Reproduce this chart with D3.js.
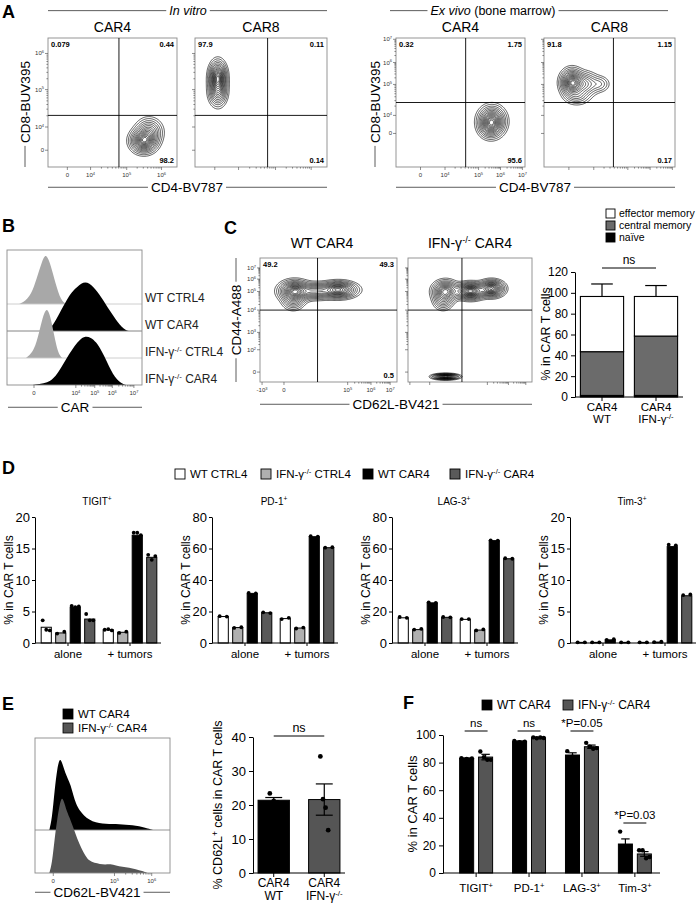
<!DOCTYPE html>
<html><head><meta charset="utf-8">
<script src="https://cdn.jsdelivr.net/npm/d3@7"></script>
<style>body{margin:0;background:#fff}</style>
</head><body>
<script>
// ================= DATA =================
// Panel A – flow plots (channel units 0–100 on a biexponential display)
const aTitles = ["CAR4", "CAR8", "CAR4", "CAR8"];
const aQuadrants = [["0.079", "0.44", "98.2"], ["97.9", "0.11", "0.14"], ["0.32", "1.75", "95.6"], ["91.8", "1.15", "0.17"]];
const aGates = [[55, 40], [55, 40], [54, 50], [53, 50]];
// populations: [centerX, centerY, spreadX, spreadY, weight]
const aPopInVitroCAR4 = [[74, 20, 5, 4.5, 1], [78, 27, 5, 5, 0.45]];
const aPopInVitroCAR8 = [[17, 69, 3.2, 6, 1], [17, 58, 3.4, 5.5, 0.5]];
const aPopExVivoCAR4 = [[74, 35, 5, 5.5, 1], [72, 30, 4, 4, 0.2]];
const aPopExVivoCAR8 = [[21, 65, 4.2, 5, 1], [30, 64, 5.5, 4.5, 0.45], [42, 64, 4, 3.2, 0.15], [25, 55, 5, 3.5, 0.22]];
const aTicksInVitroX = [["0", 15], ["10^(4)", 33], ["10^(5)", 61], ["10^(6)", 88]];
const aTicksInVitroY = [["0", 13], ["10^(4)", 31], ["10^(5)", 60], ["10^(6)", 88]];
const aTicksExVivoX = [["0", 19], ["10^(4)", 38], ["10^(5)", 64], ["10^(6)", 81], ["10^(7)", 98]];
const aTicksExVivoY = [["0", 26], ["10^(4)", 40], ["10^(5)", 64], ["10^(6)", 81], ["10^(7)", 99]];

// Panel B – CAR histograms: [channel, relative height]
const bSamples = ["WT CTRL4", "WT CAR4", "IFN-γ^(-/-) CTRL4", "IFN-γ^(-/-) CAR4"];
const bHistWTCTRL4 = [[9,0],[12,.04],[15,.1],[18,.22],[20,.36],[22,.52],[24,.7],[26,.87],[28,1],[30,.96],[32,.82],[34,.62],[36,.42],[38,.24],[40,.1],[42,.03],[44,0]];
const bHistWTCAR4 = [[27,0],[31,.04],[34,.12],[37,.26],[40,.42],[44,.62],[48,.8],[52,.9],[55,.97],[58,1],[61,.97],[64,.9],[67,.8],[70,.68],[73,.55],[76,.42],[79,.3],[82,.18],[85,.08],[88,.02],[90,0]];
const bHistKOCTRL4 = [[14,0],[17,.06],[20,.18],[22,.34],[24,.55],[26,.78],[28,.95],[29.5,1],[31,.94],[33,.74],[35,.45],[37,.2],[39,.05],[41,0]];
const bHistKOCAR4 = [[18,0],[24,.015],[30,.05],[34,.12],[38,.26],[42,.44],[46,.63],[50,.8],[54,.93],[58,1],[62,.97],[66,.88],[70,.7],[74,.48],[77,.3],[80,.16],[83,.07],[86,.02],[88,0]];
const bTicks = [["0", 20], ["10^(4)", 51], ["10^(5)", 65], ["10^(6)", 78], ["10^(7)", 94]];

// Panel C – CD44 / CD62L flow + memory subsets
const cPopWT = [[25, 73, 5.5, 4, 1], [40, 73, 7, 3.2, 0.55], [57, 74, 6.5, 3.2, 0.95], [24, 66, 4, 4, 0.35]];
const cPopKO = [[30, 73, 5, 4, 0.75], [50, 73, 6, 3.2, 1], [67, 75, 5, 3.2, 0.9], [28, 66, 4, 4, 0.3], [30, 4, 5, 1.1, 0.9]];
const cTicksX = [["-10^(3)", 1.5], ["0", 17.5], ["10^(5)", 64], ["10^(6)", 81], ["10^(7)", 95]];
const cTicksY = [["0", 8], ["10^(2)", 26], ["10^(3)", 40], ["10^(4)", 58], ["10^(5)", 73], ["10^(6)", 83], ["10^(7)", 92]];
const cGroups = ["WT", "IFN"];
const cGroupLabels = [["CAR4", "WT"], ["CAR4", "IFN-γ^(-/-)"]];
const cSubsets = ["effector memory", "central memory", "naïve"];
const cNaive = [1.5, 1.5];
const cCentral = [42, 57];
const cEffector = [53, 38];
const cCentralErr = [10, 8.5];
const cTotalErr = [12, 10.5];

// Panel D – exhaustion markers
const dGroups = ["alone", "+ tumors"];
const dSeries = ["WT CTRL4", "IFN-γ^(-/-) CTRL4", "WT CAR4", "IFN-γ^(-/-) CAR4"];
const dTitles = ["TIGIT^(+)", "PD-1^(+)", "LAG-3^(+)", "Tim-3^(+)"];
const dYMax = [20, 80, 80, 20];
const dTIGIT = [[2.5, 1.6, 5.7, 3.8], [2.1, 1.7, 17.1, 13.6]];
const dTIGITDots = [[[3.6, 2.1, 2.0], [1.5, 1.8], [5.9, 5.7, 5.8], [4.6, 3.6, 3.6]], [[2.1, 2.2, 2.0], [1.6, 1.8], [17.5, 17.5, 17.1], [14.0, 13.2, 13.8]]];
const dPD1 = [[16.8, 9.8, 31.5, 19.2], [15.5, 9.5, 67.5, 60.5]];
const dPD1Dots = [[[17, 16.8], [9.6, 10], [31.8, 31.5], [19.5, 19]], [[15.2, 16], [9.2, 9.8], [67.8, 67.5], [60.5, 60.8]]];
const dLAG3 = [[16, 8.5, 25.5, 16.3], [15, 8.2, 65, 53.5]];
const dLAG3Dots = [[[16.5, 16], [8.5, 9], [25.8, 25.5], [16.5, 16.3]], [[15.2, 15.2], [8, 8.6], [65.2, 65], [53.8, 53.5]]];
const dTIM3 = [[0.1, 0.1, 0.5, 0.1], [0.1, 0.15, 15.3, 7.5]];
const dTIM3Dots = [[[0.1, 0.1], [0.1, 0.1], [0.5, 0.6], [0.1, 0.1]], [[0.1, 0.1], [0.15, 0.2], [15.6, 15.5], [7.6, 7.7]]];

// Panel E – CD62L
const eSamples = ["WT CAR4", "IFN-γ^(-/-) CAR4"];
const eHistWT = [[10,0],[12,.15],[14,.55],[16,.85],[18,1],[20,.9],[22,.78],[24,.7],[26,.62],[28,.48],[30,.36],[33,.26],[36,.2],[40,.14],[45,.1],[50,.09],[55,.08],[60,.085],[65,.075],[70,.07],[75,.06],[80,.04],[84,.02],[88,0]];
const eHistKO = [[10,0],[12,.12],[14,.45],[16,.72],[18,.92],[19.5,1],[21,.94],[23,.82],[25,.74],[28,.6],[31,.45],[34,.33],[37,.23],[40,.16],[44,.13],[48,.12],[52,.11],[56,.12],[60,.1],[65,.08],[70,.07],[75,.05],[80,.025],[84,0]];
const eTicks = [["0", 13], ["10^(5)", 59], ["10^(6)", 87]];
const eGroups = ["WT", "IFN"];
const eGroupLabels = [["CAR4", "WT"], ["CAR4", "IFN-γ^(-/-)"]];
const eMeans = [21.4, 21.6];
const eSEM = [0.8, 4.6];
const eDots = [[23.4, 21.2, 20.8], [34.3, 21.7, 19.2, 12.6]];

// Panel F – markers in tumors
const fMarkers = ["TIGIT^(+)", "PD-1^(+)", "LAG-3^(+)", "Tim-3^(+)"];
const fSeries = ["WT CAR4", "IFN-γ^(-/-) CAR4"];
const fWT = [83, 95.2, 85.5, 21];
const fKO = [84, 98, 91.5, 13.8];
const fWTErr = [0.4, 0.5, 1.6, 3.7];
const fKOErr = [2, 0.4, 1.2, 1.7];
const fWTDots = [[83.2, 82.6, 83], [95.6, 94.8, 95.1], [88.3, 84.2, 84], [30, 17.3, 15.8]];
const fKODots = [[88, 84, 82, 82], [98.3, 97.6, 98.2, 97.8], [94.3, 91.5, 90, 90.5], [16.5, 16.5, 10.6, 11.6]];
const fStats = ["ns", "ns", "*P=0.05", "*P=0.03"];

// ================= DRAWING =================
const FONT = "'Liberation Sans', Arial, Helvetica, sans-serif";
const svg = d3.select("body").append("svg").attr("width", 700).attr("height", 903)
  .style("font-family", FONT);
const contourLevels = [0.025, 0.05, 0.09, 0.14, 0.2, 0.27, 0.35, 0.43, 0.51, 0.59, 0.67, 0.75, 0.82, 0.89, 0.95];

function rich(t, str, fs) {
  const parts = str.split(/\^\(([^)]*)\)/);
  let shifted = false;
  parts.forEach((p, i) => {
    if (i % 2 === 1) {
      t.append("tspan").attr("dy", -0.36 * fs).attr("font-size", fs * 0.66).text(p);
      shifted = true;
    } else if (p !== "") {
      const ts = t.append("tspan").text(p);
      if (shifted) { ts.attr("dy", 0.36 * fs); shifted = false; }
    }
  });
  return t;
}
function txt(parent, x, y, str, fs, anchor, extra) {
  const t = parent.append("text").attr("x", x).attr("y", y).attr("font-size", fs)
    .attr("text-anchor", anchor || "start").attr("fill", "#000").attr("font-family", FONT);
  if (extra) extra(t);
  return rich(t, str, fs);
}
function letter(l, x, y) {
  svg.append("text").attr("x", x).attr("y", y).attr("font-size", 18).attr("font-weight", "bold").text(l);
}
function hLineLabel(cx, base, x0, x1, build, fs, stroke) {
  const t = svg.append("text").attr("x", cx).attr("y", base).attr("text-anchor", "middle")
    .attr("font-size", fs).attr("font-family", FONT);
  build(t);
  const bb = t.node().getBBox();
  const ly = base - fs * 0.35;
  [[x0, bb.x - 3], [bb.x + bb.width + 3, x1]].forEach(([a, b]) => {
    svg.append("line").attr("x1", a).attr("x2", b).attr("y1", ly).attr("y2", ly)
      .attr("stroke", stroke || "#333").attr("stroke-width", 0.8);
  });
}
function vLineLabel(cx, cy, y0, y1, str, fs, both) {
  const g = svg.append("g").attr("transform", `translate(${cx},${cy}) rotate(-90)`);
  const t = g.append("text").attr("x", 0).attr("y", 0).attr("dy", "0.35em").attr("text-anchor", "middle")
    .attr("font-size", fs).attr("font-family", FONT);
  rich(t, str, fs);
  const w = t.node().getBBox().width;
  g.append("line").attr("x1", cy - y1).attr("x2", -w / 2 - 3).attr("y1", 0).attr("y2", 0).attr("stroke", "#333").attr("stroke-width", 0.8);
  if (both) g.append("line").attr("x1", w / 2 + 3).attr("x2", cy - y0).attr("y1", 0).attr("y2", 0).attr("stroke", "#333").attr("stroke-width", 0.8);
}
function vText(cx, cy, str, fs) {
  const g = svg.append("g").attr("transform", `translate(${cx},${cy}) rotate(-90)`);
  const t = g.append("text").attr("x", 0).attr("y", 0).attr("dy", "0.35em").attr("text-anchor", "middle")
    .attr("font-size", fs).attr("font-family", FONT);
  rich(t, str, fs);
}

let clipN = 0;
function minorTicks(ticks) {
  const out = [];
  for (let i = 0; i < ticks.length - 1; i++) {
    if (ticks[i][0].indexOf("^") < 0 || ticks[i + 1][0].indexOf("^") < 0 || ticks[i][0][0] === "-") continue;
    const a = ticks[i][1], b = ticks[i + 1][1];
    for (let m = 2; m <= 9; m++) out.push(a + (b - a) * Math.log10(m));
  }
  return out;
}
function flowPlot(o) {
  const xs = d3.scaleLinear().domain([0, 100]).range([o.x0, o.x1]);
  const ys = d3.scaleLinear().domain([0, 100]).range([o.y1, o.y0]);
  const g = svg.append("g");
  const id = "fc" + (clipN++);
  g.append("clipPath").attr("id", id).append("rect").attr("x", o.x0).attr("y", o.y0)
    .attr("width", o.x1 - o.x0).attr("height", o.y1 - o.y0);
  const n = 160, k = 100 / n;
  const vals = new Float64Array(n * n);
  for (let j = 0; j < n; j++) for (let i = 0; i < n; i++) {
    const cx = i * k, cy = j * k; let s = 0;
    for (const [mx, my, sx, sy, w] of o.pop) s += w * Math.exp(-0.5 * ((cx - mx) / sx) ** 2 - 0.5 * ((cy - my) / sy) ** 2);
    vals[j * n + i] = s;
  }
  const mx = d3.max(vals);
  const cs = d3.contours().size([n, n]).thresholds(contourLevels.map(l => l * mx))(vals);
  const path = d3.geoPath(d3.geoTransform({ point(x, y) { this.stream.point(xs(x * k), ys(y * k)); } }));
  g.append("g").attr("clip-path", `url(#${id})`).selectAll("path").data(cs).join("path")
    .attr("d", path).attr("fill", "none").attr("stroke", "#000").attr("stroke-width", 0.65);
  g.append("rect").attr("x", o.x0).attr("y", o.y0).attr("width", o.x1 - o.x0).attr("height", o.y1 - o.y0)
    .attr("fill", "none").attr("stroke", "#8a8a8a").attr("stroke-width", 0.9);
  g.append("line").attr("x1", xs(o.q[0])).attr("x2", xs(o.q[0])).attr("y1", o.y0).attr("y2", o.y1).attr("stroke", "#000").attr("stroke-width", 0.9);
  g.append("line").attr("x1", o.x0).attr("x2", o.x1).attr("y1", ys(o.q[1])).attr("y2", ys(o.q[1])).attr("stroke", "#000").attr("stroke-width", 0.9);
  const tk = g.append("g").attr("stroke", "#444").attr("stroke-width", 0.6);
  o.xt.forEach(([l, c]) => tk.append("line").attr("x1", xs(c)).attr("x2", xs(c)).attr("y1", o.y1).attr("y2", o.y1 + 3));
  o.yt.forEach(([l, c]) => tk.append("line").attr("x1", o.x0 - 3).attr("x2", o.x0).attr("y1", ys(c)).attr("y2", ys(c)));
  minorTicks(o.xt).forEach(c => tk.append("line").attr("x1", xs(c)).attr("x2", xs(c)).attr("y1", o.y1).attr("y2", o.y1 + 1.6));
  minorTicks(o.yt).forEach(c => tk.append("line").attr("x1", o.x0 - 1.6).attr("x2", o.x0).attr("y1", ys(c)).attr("y2", ys(c)));
  if (o.showX) o.xt.forEach(([l, c]) => txt(g, xs(c), o.y1 + 10, l, 6, "middle", t => t.attr("fill", "#333")));
  if (o.showY) o.yt.forEach(([l, c]) => txt(g, o.x0 - 4, ys(c) + 2, l, 6, "end", t => t.attr("fill", "#333")));
  if (o.nums) {
    const nb = t => t.attr("font-weight", "bold");
    txt(g, o.x0 + 3, o.y0 + 9, o.nums[0], 7.5, "start", nb);
    txt(g, o.x1 - 3, o.y0 + 9, o.nums[1], 7.5, "end", nb);
    txt(g, o.x1 - 3, o.y1 - 4, o.nums[2], 7.5, "end", nb);
  }
}

// ---------- Panel A ----------
letter("A", 2, 18);
hLineLabel(188, 15, 48, 327, t => t.append("tspan").attr("font-style", "italic").text("In vitro"), 12.5);
hLineLabel(493, 15, 390, 668, t => {
  t.append("tspan").attr("font-style", "italic").text("Ex vivo");
  t.append("tspan").text(" (bone marrow)");
}, 12.5);
const aBoxes = [[48, 177], [195, 327], [396, 525], [544, 675]];
const aPops = [aPopInVitroCAR4, aPopInVitroCAR8, aPopExVivoCAR4, aPopExVivoCAR8];
aBoxes.forEach(([x0, x1], i) => {
  flowPlot({ x0, x1, y0: 38, y1: 167, q: aGates[i], pop: aPops[i],
    xt: i < 2 ? aTicksInVitroX : aTicksExVivoX, yt: i < 2 ? aTicksInVitroY : aTicksExVivoY,
    showX: i % 2 === 0, showY: i % 2 === 0, nums: aQuadrants[i] });
  txt(svg, (x0 + x1) / 2, 32, aTitles[i], 14, "middle");
});
vLineLabel(25, 102, 38, 167, "CD8-BUV395", 13.5, false);
vLineLabel(375, 102, 38, 167, "CD8-BUV395", 13.5, false);
hLineLabel(187, 192, 48, 327, t => t.text("CD4-BV787"), 13.5);
hLineLabel(535, 192, 396, 675, t => t.text("CD4-BV787"), 13.5);

// ---------- Panel B ----------
letter("B", 2, 232);
{
  const x0 = 7, x1 = 142, y0 = 250, y1 = 385;
  const xs = d3.scaleLinear().domain([0, 100]).range([x0, x1]);
  const baselines = [304, 331, 358, 385];
  const hists = [bHistWTCTRL4, bHistWTCAR4, bHistKOCTRL4, bHistKOCAR4];
  const fills = ["#a8a8a8", "#000", "#a8a8a8", "#000"];
  const g = svg.append("g");
  g.append("clipPath").attr("id", "bclip").append("rect").attr("x", x0).attr("y", y0).attr("width", x1 - x0).attr("height", y1 - y0);
  const gg = g.append("g").attr("clip-path", "url(#bclip)");
  hists.forEach((h, i) => {
    const hs = d3.scaleLinear().domain([0, 1]).range([baselines[i], baselines[i] - 49]);
    const area = d3.area().x(d => xs(d[0])).y0(baselines[i]).y1(d => hs(d[1])).curve(d3.curveBasis);
    gg.append("path").datum(h).attr("d", area).attr("fill", fills[i]);
    if (i < 3) gg.append("line").attr("x1", x0).attr("x2", x1).attr("y1", baselines[i]).attr("y2", baselines[i])
      .attr("stroke", i === 1 ? "#777" : "#c8c8c8").attr("stroke-width", 0.9);
  });
  g.append("rect").attr("x", x0).attr("y", y0).attr("width", x1 - x0).attr("height", y1 - y0)
    .attr("fill", "none").attr("stroke", "#8a8a8a").attr("stroke-width", 0.9);
  const tk = g.append("g").attr("stroke", "#444").attr("stroke-width", 0.6);
  bTicks.forEach(([l, c]) => tk.append("line").attr("x1", xs(c)).attr("x2", xs(c)).attr("y1", y1).attr("y2", y1 + 3));
  minorTicks(bTicks).forEach(c => tk.append("line").attr("x1", xs(c)).attr("x2", xs(c)).attr("y1", y1).attr("y2", y1 + 1.6));
  bTicks.forEach(([l, c]) => txt(g, xs(c), y1 + 10, l, 6, "middle", t => t.attr("fill", "#333")));
  bSamples.forEach((s, i) => txt(svg, 145, baselines[i] - 2, s, 12, "start", t => t.attr("fill", "#222")));
  hLineLabel(75, 412, 8, 142, t => t.text("CAR"), 13.5);
}

// ---------- Panel C ----------
letter("C", 224, 234);
flowPlot({ x0: 260, x1: 397, y0: 258, y1: 382, q: [42, 58], pop: cPopWT, xt: cTicksX, yt: cTicksY,
  showX: true, showY: true, nums: ["49.2", "49.3", "0.5"] });
flowPlot({ x0: 408, x1: 532, y0: 258, y1: 382, q: [43.5, 58], pop: cPopKO, xt: cTicksX, yt: cTicksY,
  showX: false, showY: false, nums: null });
txt(svg, 322, 248, "WT CAR4", 14, "middle");
txt(svg, 470, 248, "IFN-γ^(-/-) CAR4", 14, "middle");
vLineLabel(236, 320, 258, 382, "CD44-A488", 13.5, true);
hLineLabel(396, 409, 260, 532, t => t.text("CD62L-BV421"), 13.5);
{
  const y = d3.scaleLinear().domain([0, 120]).range([397, 272]);
  const x = d3.scaleBand().domain(cGroups).range([575, 683]).paddingInner(0.2).paddingOuter(0.1);
  const g = svg.append("g");
  const stacks = cGroups.map((gname, i) => [
    { key: "naïve", y0: 0, y1: cNaive[i], fill: "#000" },
    { key: "central", y0: cNaive[i], y1: cNaive[i] + cCentral[i], fill: "#6b6b6b" },
    { key: "effector", y0: cNaive[i] + cCentral[i], y1: cNaive[i] + cCentral[i] + cEffector[i], fill: "#fff" }]);
  cGroups.forEach((gname, i) => {
    const bx = x(gname), bw = x.bandwidth(), cx = bx + bw / 2;
    const cTop = stacks[i][1].y1, tTop = stacks[i][2].y1;
    [[cTop, cCentralErr[i]], [tTop, cTotalErr[i]]].forEach(([m, e]) => {
      g.append("line").attr("x1", cx).attr("x2", cx).attr("y1", y(m)).attr("y2", y(m + e)).attr("stroke", "#000").attr("stroke-width", 1.2);
      g.append("line").attr("x1", cx - bw * 0.25).attr("x2", cx + bw * 0.25).attr("y1", y(m + e)).attr("y2", y(m + e)).attr("stroke", "#000").attr("stroke-width", 1.2);
    });
    stacks[i].forEach(s => g.append("rect").attr("x", bx).attr("width", bw).attr("y", y(s.y1)).attr("height", y(s.y0) - y(s.y1))
      .attr("fill", s.fill).attr("stroke", "#000").attr("stroke-width", 1.1));
    txt(g, cx, 411, cGroupLabels[i][0], 11.5, "middle");
    txt(g, cx, 423, cGroupLabels[i][1], 11.5, "middle");
  });
  const ay = g.append("g").attr("transform", "translate(575,0)").call(d3.axisLeft(y).tickValues(d3.range(0, 121, 20)).tickSize(4).tickSizeOuter(0));
  ay.attr("font-family", FONT).attr("font-size", 12).selectAll("text").attr("fill", "#000");
  ay.selectAll("path,line").attr("stroke", "#000");
  const axx = g.append("g").attr("transform", "translate(0,397)").call(d3.axisBottom(x).tickSize(4).tickSizeOuter(0).tickFormat(""));
  axx.select(".domain").attr("d", "M575,0H683");
  axx.selectAll("path,line").attr("stroke", "#000");
  vText(546, 334, "% in CAR T cells", 12.5);
  const c1 = x("WT") + x.bandwidth() / 2, c2 = x("IFN") + x.bandwidth() / 2;
  g.append("line").attr("x1", c1).attr("x2", c2).attr("y1", 268).attr("y2", 268).attr("stroke", "#000");
  txt(g, (c1 + c2) / 2, 264, "ns", 12, "middle");
  const lfill = ["#fff", "#6b6b6b", "#000"];
  cSubsets.forEach((s, i) => {
    g.append("rect").attr("x", 606).attr("y", 209 + i * 12).attr("width", 9).attr("height", 9)
      .attr("fill", lfill[i]).attr("stroke", "#000").attr("stroke-width", 0.9);
    txt(g, 619, 217 + i * 12, s, 10.5, "start");
  });
}

// ---------- Panel D ----------
letter("D", 2, 474);
{
  const dColors = ["#ffffff", "#b0b0b0", "#000000", "#5a5a5a"];
  const legX = [175, 261, 363, 450];
  dSeries.forEach((s, i) => {
    svg.append("rect").attr("x", legX[i]).attr("y", 469).attr("width", 10).attr("height", 10)
      .attr("fill", dColors[i]).attr("stroke", "#000").attr("stroke-width", 0.9);
    txt(svg, legX[i] + 15, 478, s, 11.5, "start");
  });
  const dMeans = [dTIGIT, dPD1, dLAG3, dTIM3];
  const dDots = [dTIGITDots, dPD1Dots, dLAG3Dots, dTIM3Dots];
  const axX = [35, 212, 392, 570];
  const yB = 643, yT = 517;
  axX.forEach((x0, p) => {
    const g = svg.append("g");
    const y = d3.scaleLinear().domain([0, dYMax[p]]).range([yB, yT]);
    const gx = d3.scaleBand().domain(dGroups).range([x0 + 4, x0 + 124]).paddingInner(0.065);
    const sx = d3.scaleBand().domain(dSeries).range([0, gx.bandwidth()]).paddingInner(0.3).paddingOuter(0.15);
    dGroups.forEach((grp, gi) => {
      dSeries.forEach((s, si) => {
        const v = dMeans[p][gi][si];
        const bx = gx(grp) + sx(s), bw = sx.bandwidth();
        g.append("rect").attr("x", bx).attr("width", bw).attr("y", y(v)).attr("height", Math.max(0.5, yB - y(v)))
          .attr("fill", dColors[si]).attr("stroke", "#000").attr("stroke-width", 1);
        const ds = dDots[p][gi][si];
        ds.forEach((dv, k) => {
          const off = ds.length === 1 ? 0 : (k / (ds.length - 1) - 0.5) * bw * 0.7;
          g.append("circle").attr("cx", bx + bw / 2 + off).attr("cy", y(dv)).attr("r", 1.9).attr("fill", "#000");
        });
      });
    });
    const ay = g.append("g").attr("transform", `translate(${x0},0)`)
      .call(d3.axisLeft(y).ticks(4).tickSize(3).tickSizeOuter(0).tickPadding(2));
    ay.attr("font-family", FONT).attr("font-size", 13).selectAll("text").attr("fill", "#000");
    ay.selectAll("path,line").attr("stroke", "#000");
    const axb = g.append("g").attr("transform", `translate(0,${yB})`)
      .call(d3.axisBottom(gx).tickSize(3).tickSizeOuter(0).tickPadding(4));
    axb.select(".domain").attr("d", `M${x0},0H${x0 + 126}`);
    axb.attr("font-family", FONT).attr("font-size", 11.5).selectAll("text").attr("fill", "#000");
    axb.selectAll("path,line").attr("stroke", "#000");
    txt(g, x0 + 62, 505, dTitles[p], 10, "middle");
    vText(x0 - 26, 580, "% in CAR T cells", 12);
  });
}

// ---------- Panel E ----------
letter("E", 2, 710);
{
  const x0 = 35, x1 = 170, y0 = 738, y1 = 873;
  const xs = d3.scaleLinear().domain([0, 100]).range([x0 + 1, x1 - 1]);
  const g = svg.append("g");
  const hs1 = d3.scaleLinear().domain([0, 1]).range([830, 757]);
  const hs2 = d3.scaleLinear().domain([0, 1]).range([873, 797]);
  g.append("path").datum(eHistWT).attr("d", d3.area().x(d => xs(d[0])).y0(830).y1(d => hs1(d[1])).curve(d3.curveBasis)).attr("fill", "#000");
  g.append("line").attr("x1", x0).attr("x2", x1).attr("y1", 830).attr("y2", 830).attr("stroke", "#888").attr("stroke-width", 0.9);
  g.append("path").datum(eHistKO).attr("d", d3.area().x(d => xs(d[0])).y0(873).y1(d => hs2(d[1])).curve(d3.curveBasis)).attr("fill", "#555");
  g.append("rect").attr("x", x0).attr("y", y0).attr("width", x1 - x0).attr("height", y1 - y0)
    .attr("fill", "none").attr("stroke", "#8a8a8a").attr("stroke-width", 0.9);
  const tk = g.append("g").attr("stroke", "#444").attr("stroke-width", 0.6);
  eTicks.forEach(([l, c]) => tk.append("line").attr("x1", xs(c)).attr("x2", xs(c)).attr("y1", y1).attr("y2", y1 + 3));
  minorTicks(eTicks).forEach(c => tk.append("line").attr("x1", xs(c)).attr("x2", xs(c)).attr("y1", y1).attr("y2", y1 + 1.6));
  eTicks.forEach(([l, c]) => txt(g, xs(c), y1 + 10, l, 6, "middle", t => t.attr("fill", "#333")));
  hLineLabel(97, 897, 35, 170, t => t.text("CD62L-BV421"), 13.5);
  const efill = ["#000", "#555"];
  eSamples.forEach((s, i) => {
    svg.append("rect").attr("x", 63).attr("y", 709 + i * 14).attr("width", 10).attr("height", 10).attr("fill", efill[i]).attr("stroke", "#000").attr("stroke-width", 0.8);
    txt(svg, 78, 718 + i * 14, s, 11.5, "start");
  });
  const y = d3.scaleLinear().domain([0, 40]).range([873, 737]);
  const x = d3.scaleBand().domain(eGroups).range([253, 345]).paddingInner(0.38).paddingOuter(0.1);
  eGroups.forEach((gname, i) => {
    const bx = x(gname), bw = x.bandwidth(), cx = bx + bw / 2;
    g.append("rect").attr("x", bx).attr("width", bw).attr("y", y(eMeans[i])).attr("height", 873 - y(eMeans[i]))
      .attr("fill", efill[i]).attr("stroke", "#000").attr("stroke-width", 1);
    const lo = eMeans[i] - eSEM[i], hi = eMeans[i] + eSEM[i];
    g.append("line").attr("x1", cx).attr("x2", cx).attr("y1", y(lo)).attr("y2", y(hi)).attr("stroke", "#000").attr("stroke-width", 1.2);
    [lo, hi].forEach(v => g.append("line").attr("x1", cx - bw * 0.27).attr("x2", cx + bw * 0.27).attr("y1", y(v)).attr("y2", y(v)).attr("stroke", "#000").attr("stroke-width", 1.2));
    eDots[i].forEach((dv, k) => {
      const n = eDots[i].length;
      const off = (k / (n - 1) - 0.5) * bw * 0.25;
      g.append("circle").attr("cx", cx + off).attr("cy", y(dv)).attr("r", 2.4).attr("fill", "#000");
    });
    txt(g, cx, 887, eGroupLabels[i][0], 12, "middle");
    txt(g, cx, 900, eGroupLabels[i][1], 12, "middle");
  });
  const ay = g.append("g").attr("transform", "translate(253,0)").call(d3.axisLeft(y).ticks(4).tickSize(4).tickSizeOuter(0));
  ay.attr("font-family", FONT).attr("font-size", 13).selectAll("text").attr("fill", "#000");
  ay.selectAll("path,line").attr("stroke", "#000");
  const axx = g.append("g").attr("transform", "translate(0,873)").call(d3.axisBottom(x).tickSize(4).tickSizeOuter(0).tickFormat(""));
  axx.select(".domain").attr("d", "M253,0H345");
  axx.selectAll("path,line").attr("stroke", "#000");
  vText(218, 805, "% CD62L^(+) cells in CAR T cells", 12.5);
  const c1 = x("WT") + x.bandwidth() / 2, c2 = x("IFN") + x.bandwidth() / 2;
  g.append("line").attr("x1", c1).attr("x2", c2).attr("y1", 736).attr("y2", 736).attr("stroke", "#000");
  txt(g, (c1 + c2) / 2, 732, "ns", 12.5, "middle");
}

// ---------- Panel F ----------
letter("F", 403, 709);
{
  const g = svg.append("g");
  const ffill = ["#000", "#555"];
  const legX = [482, 563];
  fSeries.forEach((s, i) => {
    g.append("rect").attr("x", legX[i]).attr("y", 700).attr("width", 10).attr("height", 10).attr("fill", ffill[i]).attr("stroke", "#000").attr("stroke-width", 0.8);
    txt(g, legX[i] + 15, 709, s, 12, "start");
  });
  const y = d3.scaleLinear().domain([0, 100]).range([873, 735]);
  const x = d3.scaleBand().domain(fMarkers).range([448, 663]).paddingInner(0.377).paddingOuter(0.22);
  const sx = d3.scaleBand().domain(fSeries).range([0, x.bandwidth()]).paddingInner(0.26);
  const means = [fWT, fKO], errs = [fWTErr, fKOErr];
  const dots = [fWTDots, fKODots];
  const statY = [731, 731, 731, 823];
  fMarkers.forEach((m, mi) => {
    fSeries.forEach((s, si) => {
      const bx = x(m) + sx(s), bw = sx.bandwidth(), cx = bx + bw / 2, v = means[si][mi], e = errs[si][mi];
      g.append("rect").attr("x", bx).attr("width", bw).attr("y", y(v)).attr("height", 873 - y(v))
        .attr("fill", ffill[si]).attr("stroke", "#000").attr("stroke-width", 1);
      g.append("line").attr("x1", cx).attr("x2", cx).attr("y1", y(v - e)).attr("y2", y(v + e)).attr("stroke", "#000").attr("stroke-width", 1.2);
      [v - e, v + e].forEach(vv => g.append("line").attr("x1", cx - bw * 0.3).attr("x2", cx + bw * 0.3).attr("y1", y(vv)).attr("y2", y(vv)).attr("stroke", "#000").attr("stroke-width", 1.2));
      const ds = dots[si][mi];
      ds.forEach((dv, k) => {
        const off = (k / (ds.length - 1) - 0.5) * bw * 0.75;
        g.append("circle").attr("cx", cx + off).attr("cy", y(dv)).attr("r", 2.2).attr("fill", "#000");
      });
    });
    const c1 = x(m) + sx(fSeries[0]) + sx.bandwidth() / 2, c2 = x(m) + sx(fSeries[1]) + sx.bandwidth() / 2;
    const ly = statY[mi];
    g.append("line").attr("x1", c1 - 2).attr("x2", c2 + 2).attr("y1", ly).attr("y2", ly).attr("stroke", "#000");
    txt(g, (c1 + c2) / 2, ly - 4, fStats[mi], 11.5, "middle");
  });
  const ay = g.append("g").attr("transform", "translate(443,0)").call(d3.axisLeft(y).ticks(5).tickSize(4).tickSizeOuter(0));
  ay.attr("font-family", FONT).attr("font-size", 12).selectAll("text").attr("fill", "#000");
  ay.selectAll("path,line").attr("stroke", "#000");
  const axx = g.append("g").attr("transform", "translate(0,873)").call(d3.axisBottom(x).tickSize(4).tickSizeOuter(0).tickFormat(""));
  axx.select(".domain").attr("d", "M443,0H660");
  axx.selectAll("path,line").attr("stroke", "#000");
  fMarkers.forEach(m => txt(g, x(m) + x.bandwidth() / 2, 892, m, 11.5, "middle"));
  vText(412, 804, "% in CAR T cells", 13);
}
</script>
</body></html>
